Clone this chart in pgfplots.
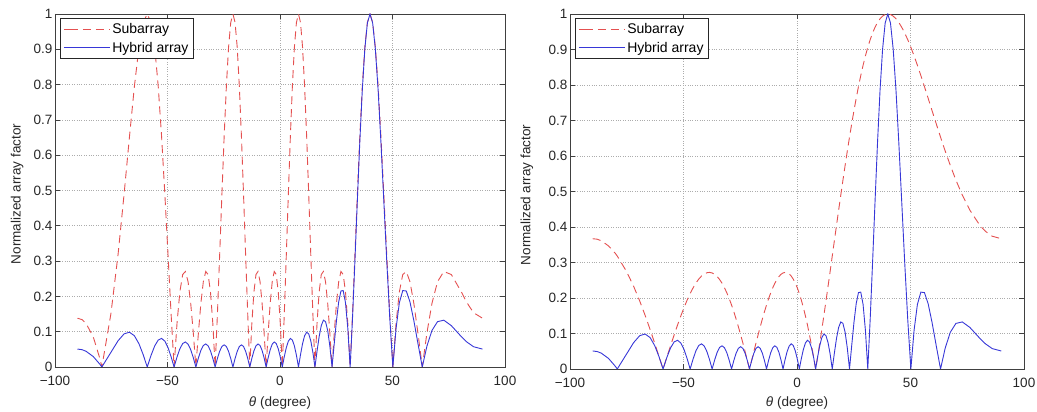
\documentclass[border=0pt]{standalone}
\usepackage{fontspec}
\setmainfont{Liberation Sans}
\usepackage{pgfplots}
\pgfplotsset{compat=1.18}
\usepackage{pgfplotstable}

\definecolor{subred}{RGB}{228,80,80}
\definecolor{hybblue}{RGB}{55,55,215}

\pgfplotstableread{
theta H L R
-90.00 0.0508 0.1382 0.3670
-88.00 0.0491 0.1342 0.3656
-86.23 0.0447 0.1238 0.3612
-83.00 0.0296 0.0854 0.3466
-80.00 0.0074 0.0227 0.3253
-79.18 0 0 0.3182
-75.15 0.0415 0.1508 0.2754
-71.98 0.0742 0.3182 0.2332
-69.29 0.0939 0.4900 0.1916
-66.89 0.0985 0.6533 0.1508
-64.70 0.0884 0.7957 0.1111
-62.68 0.0658 0.9061 0.0726
-60.79 0.0347 0.9761 0.0355
-59.01 0 1 0
-57.31 0.0330 0.9761 0.0338
-55.69 0.0596 0.9061 0.0658
-54.13 0.0763 0.7957 0.0958
-52.63 0.0809 0.6533 0.1238
-51.18 0.0732 0.4900 0.1495
-49.77 0.0550 0.3182 0.1729
-48.41 0.0293 0.1508 0.1940
-47.07 0 0 0.2126
-45.77 0.0283 0.1238 0.2287
-44.51 0.0515 0.2126 0.2423
-43.26 0.0664 0.2619 0.2534
-42.05 0.0709 0.2706 0.2619
-40.85 0.0646 0.2414 0.2678
-39.68 0.0489 0.1802 0.2712
-38.53 0.0262 0.0961 0.2721
-37.39 0 0 0.2706
-36.27 0.0256 0.0961 0.2667
-35.17 0.0469 0.1802 0.2604
-34.08 0.0608 0.2414 0.2520
-33.01 0.0653 0.2706 0.2414
-31.94 0.0599 0.2619 0.2288
-30.90 0.0456 0.2126 0.2143
-29.86 0.0245 0.1238 0.1981
-28.83 0 0 0.1802
-27.81 0.0243 0.1508 0.1610
-26.81 0.0447 0.3182 0.1404
-25.81 0.0582 0.4900 0.1187
-24.82 0.0628 0.6533 0.0961
-23.83 0.0579 0.7957 0.0728
-22.86 0.0442 0.9061 0.0488
-21.89 0.0239 0.9761 0.0245
-20.93 0 1 0
-19.97 0.0239 0.9761 0.0245
-19.02 0.0442 0.9061 0.0488
-18.08 0.0579 0.7957 0.0728
-17.14 0.0628 0.6533 0.0961
-16.21 0.0582 0.4900 0.1187
-15.28 0.0447 0.3182 0.1404
-14.35 0.0243 0.1508 0.1610
-13.43 0 0 0.1802
-12.51 0.0245 0.1238 0.1981
-11.59 0.0456 0.2126 0.2143
-10.68 0.0599 0.2619 0.2288
-9.77 0.0653 0.2706 0.2414
-8.86 0.0608 0.2414 0.2520
-7.96 0.0469 0.1802 0.2604
-7.06 0.0256 0.0961 0.2667
-6.15 0 0 0.2706
-5.26 0.0262 0.0961 0.2721
-4.36 0.0489 0.1802 0.2712
-3.46 0.0646 0.2414 0.2678
-2.56 0.0709 0.2706 0.2619
-1.67 0.0664 0.2619 0.2534
-0.77 0.0515 0.2126 0.2423
0.12 0.0283 0.1238 0.2287
1.02 0 0 0.2126
1.91 0.0293 0.1508 0.1940
2.81 0.0550 0.3182 0.1729
3.71 0.0732 0.4900 0.1495
4.61 0.0809 0.6533 0.1238
5.50 0.0763 0.7957 0.0958
6.40 0.0596 0.9061 0.0658
7.31 0.0330 0.9761 0.0338
8.21 0 1 0
9.11 0.0347 0.9761 0.0355
10.02 0.0658 0.9061 0.0726
10.93 0.0884 0.7957 0.1111
11.85 0.0985 0.6533 0.1508
12.76 0.0939 0.4900 0.1916
13.68 0.0742 0.3182 0.2332
14.61 0.0415 0.1508 0.2754
15.53 0 0 0.3182
16.46 0.0447 0.1238 0.3612
17.40 0.0860 0.2126 0.4043
18.34 0.1171 0.2619 0.4473
19.29 0.1326 0.2706 0.4900
20.24 0.1284 0.2414 0.5321
21.20 0.1034 0.1802 0.5735
22.16 0.0590 0.0961 0.6139
23.13 0 0 0.6533
24.11 0.0665 0.0961 0.6913
25.09 0.1312 0.1802 0.7278
26.08 0.1841 0.2414 0.7627
27.08 0.2153 0.2706 0.7957
28.09 0.2165 0.2619 0.8267
29.11 0.1819 0.2126 0.8555
30.14 0.1092 0.1238 0.8820
31.18 0 0 0.9061
32.24 0.1399 0.1508 0.9277
33.30 0.3012 0.3182 0.9466
34.38 0.4717 0.4900 0.9627
35.47 0.6376 0.6533 0.9761
36.58 0.7849 0.7957 0.9865
37.70 0.9007 0.9061 0.9940
38.84 0.9746 0.9761 0.9985
40.00 1 1 1
41.18 0.9746 0.9761 0.9985
42.38 0.9007 0.9061 0.9940
43.61 0.7849 0.7957 0.9865
44.85 0.6376 0.6533 0.9761
46.13 0.4717 0.4900 0.9627
47.44 0.3012 0.3182 0.9466
48.78 0.1399 0.1508 0.9277
50.16 0 0 0.9061
51.58 0.1092 0.1238 0.8820
53.04 0.1819 0.2126 0.8555
54.56 0.2165 0.2619 0.8267
56.13 0.2153 0.2706 0.7957
57.77 0.1841 0.2414 0.7627
59.49 0.1312 0.1802 0.7278
61.31 0.0665 0.0961 0.6913
63.23 0 0 0.6533
65.29 0.0590 0.0961 0.6139
67.53 0.1034 0.1802 0.5735
70.00 0.1284 0.2414 0.5321
72.81 0.1326 0.2706 0.4900
76.15 0.1171 0.2619 0.4473
80.60 0.0860 0.2126 0.4043
83.00 0.0710 0.1830 0.3879
86.00 0.0575 0.1538 0.3740
90.00 0.0507 0.1382 0.3671
}\afdata

\pgfplotsset{
  afaxis/.style={
    scale only axis,
    xmin=-100, xmax=100, ymin=0, ymax=1,
    xtick={-100,-50,0,50,100},
    xticklabels={−100,−50,0,50,100},
    ytick={0,0.1,0.2,0.3,0.4,0.5,0.6,0.7,0.8,0.9,1},
    yticklabels={0,0.1,0.2,0.3,0.4,0.5,0.6,0.7,0.8,0.9,1},
    grid=major,
    major grid style={dotted, gray!65, line width=0.7pt},
    tick align=inside,
    tick pos=both,
    major tick length=5pt,
    axis line style={black!75, line width=0.8pt},
    tick style={black!75, line width=0.7pt},
    tick label style={font=\fontsize{13.5}{15}\selectfont, text=black!85},
    xticklabel style={yshift=-6pt},
    yticklabel style={xshift=1pt},
    label style={font=\fontsize{13.5}{15}\selectfont, text=black!85},
    xlabel={\textit{θ} (degree)},
    ylabel={Normalized array factor},
    legend cell align=left,
    legend style={at={(0.011,0.989)}, anchor=north west,
      font=\fontsize{14}{15}\selectfont, draw=black!85, line width=0.8pt,
      inner xsep=3pt, inner ysep=3pt, row sep=3pt},
    legend image code/.code={\path (-6pt,0pt) -- (0pt,0pt);\draw[##1] (0pt,0pt) -- (40pt,0pt);},
  },
  subline/.style={subred, line width=0.9pt, dash pattern=on 8pt off 5pt},
  hybline/.style={hybblue, line width=0.9pt},
}

\begin{document}
\begin{tikzpicture}
\useasboundingbox (0,0) rectangle (1037pt,412pt);
\begin{axis}[afaxis, at={(55pt,45pt)}, anchor=south west,
  width=450pt, height=353pt,
  xlabel style={at={(axis description cs:0.5,-0.102)}, anchor=center},
  ylabel style={at={(axis description cs:-0.084,0.49)}, anchor=center}]
\addplot[subline] table[x=theta, y=L] {\afdata};
\addlegendentry{Subarray}
\addplot[hybline] table[x=theta, y=H] {\afdata};
\addlegendentry{Hybrid array}
\end{axis}
\begin{axis}[afaxis, at={(570pt,43pt)}, anchor=south west,
  width=454pt, height=355pt,
  xlabel style={at={(axis description cs:0.5,-0.096)}, anchor=center},
  ylabel style={at={(axis description cs:-0.095,0.49)}, anchor=center}]
\addplot[subline] table[x=theta, y=R] {\afdata};
\addlegendentry{Subarray}
\addplot[hybline] table[x=theta, y=H] {\afdata};
\addlegendentry{Hybrid array}
\end{axis}
\end{tikzpicture}
\end{document}
